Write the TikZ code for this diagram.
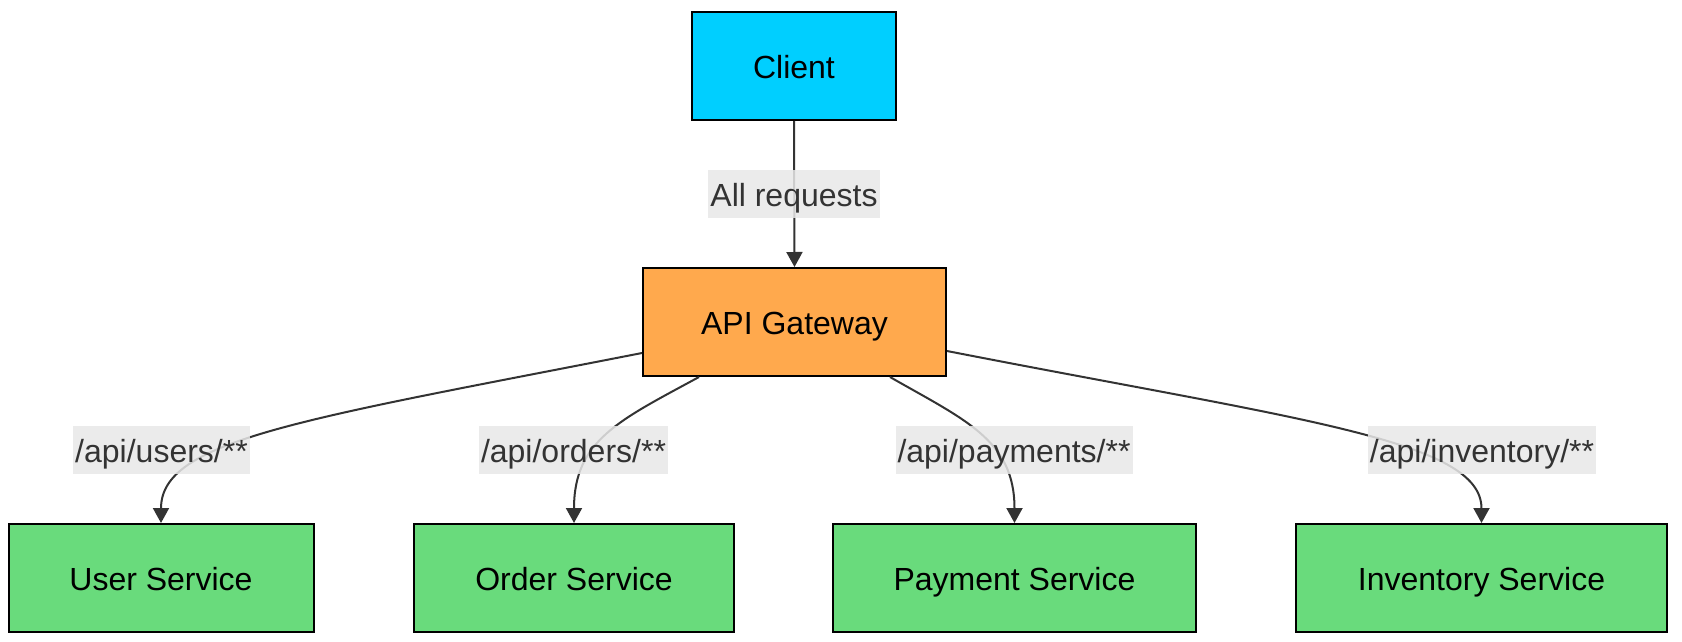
\documentclass[tikz,border=0pt]{standalone}
\usepackage{fontspec}
\setmainfont{Liberation Sans}
\usetikzlibrary{arrows.meta}
\definecolor{clientc}{RGB}{0,207,255}
\definecolor{gatec}{RGB}{255,169,77}
\definecolor{svcc}{RGB}{105,219,124}
\definecolor{edgec}{RGB}{51,51,51}
\definecolor{lblbg}{RGB}{232,232,232}
\tikzset{
  box/.style={draw=black, line width=2pt, inner sep=0pt, minimum height=108pt,
    font=\fontsize{32}{38}\selectfont, text=black, text height=27pt, text depth=3pt},
  edge/.style={draw=edgec, line width=2pt, -{Triangle[width=16pt,length=15pt]}},
  lbl/.style={fill=lblbg, fill opacity=0.85, text opacity=1, text=edgec, inner xsep=2pt,
    inner ysep=0pt, minimum height=48pt, font=\fontsize{32}{38}\selectfont,
    text height=27pt, text depth=3pt}
}
\begin{document}
\begin{tikzpicture}[x=1pt,y=-1pt]
\useasboundingbox (0,0) rectangle (1682,642);
\node[box, fill=clientc, minimum width=204pt] (client) at (794,66) {Client};
\node[box, fill=gatec, minimum width=303pt] (api) at (794.5,322) {API Gateway};
\node[box, fill=svcc, minimum width=305pt] (user) at (161,578) {User Service};
\node[box, fill=svcc, minimum width=320pt] (order) at (574,578) {Order Service};
\node[box, fill=svcc, minimum width=363pt] (pay) at (1014.5,578) {Payment Service};
\node[box, fill=svcc, minimum width=371pt] (inv) at (1481.5,578) {Inventory Service};

\draw[edge] (client.south) -- (api.north);
\draw[edge] ([yshift=24pt]api.south west) .. controls (300,420) and (161,440) .. (user.north);
\draw[edge] ([xshift=57pt]api.south west) .. controls (620,420) and (574,440) .. (order.north);
\draw[edge] ([xshift=-57pt]api.south east) .. controls (965,420) and (1014.5,440) .. (pay.north);
\draw[edge] ([yshift=26pt]api.south east) .. controls (1300,420) and (1481.5,440) .. (inv.north);

\node[lbl] (l0) at (794,194) {All requests};
\node[lbl] (l1) at (161.5,450) {/api/users/**};
\node[lbl] (l2) at (573.5,450) {/api/orders/**};
\node[lbl] (l3) at (1014,450) {/api/payments/**};
\node[lbl] (l4) at (1482,450) {/api/inventory/**};
\end{tikzpicture}
\end{document}
